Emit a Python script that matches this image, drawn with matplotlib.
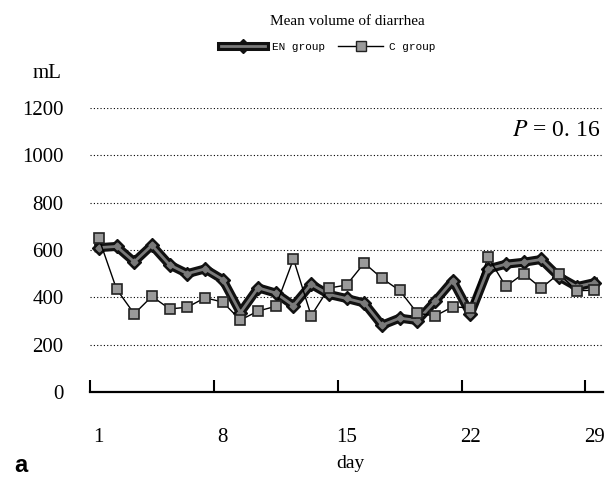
import matplotlib
matplotlib.use("Agg")
import matplotlib.pyplot as plt
from matplotlib.lines import Line2D
from matplotlib.legend_handler import HandlerTuple

# Mean volume of diarrhea (mL) per day
days = list(range(1, 30))
en_group = [610, 615, 550, 620, 537, 500, 520, 475, 335, 440, 418, 365, 455, 412, 395,
            376, 282, 312, 302, 383, 470, 330, 520, 540, 548, 560, 487, 445, 462]
c_group = [650, 435, 330, 404, 351, 358, 398, 380, 304, 342, 362, 562, 322, 439, 452,
           545, 480, 429, 333, 321, 360, 355, 570, 446, 500, 439, 500, 428, 430]

y_ticks = [0, 200, 400, 600, 800, 1000, 1200]
x_ticks = [1, 8, 15, 22, 29]

serif = ['Liberation Serif', 'DejaVu Serif']
plt.rcParams['mathtext.fontset'] = 'stix'

fig = plt.figure(figsize=(6.08, 4.78), dpi=100)
ax = fig.add_axes([0.148, 0.180, 0.844, 0.594])

# EN group: thick dark band with grey core
ax.plot(days, en_group, color='#111111', lw=6.5, marker='D', ms=7,
        mfc='#111111', mec='#111111', solid_joinstyle='round', zorder=3)
ax.plot(days, en_group, color='#7a7a7a', lw=2, marker='D', ms=3.5,
        mfc='#7a7a7a', mec='#7a7a7a', zorder=4)
# C group: thin line with grey squares
ax.plot(days, c_group, color='black', lw=1, marker='s', ms=7.5,
        mfc='#9a9a9a', mec='#222222', mew=1.2, zorder=5)

ax.set_xlim(0.5, 29.5)
ax.set_ylim(0, 1200)
ax.set_yticks(y_ticks)
ax.set_yticklabels([str(v) for v in y_ticks], family=serif, fontsize=15)
ax.set_xticks(x_ticks)
ax.set_xticklabels([str(v) for v in x_ticks], family=serif, fontsize=15)
ax.set_xticks([0.5, 7.5, 14.5, 21.5, 28.5], minor=True)
ax.tick_params(axis='x', which='major', length=0, pad=26)
ax.tick_params(axis='x', which='minor', direction='in', length=9, width=1.5)
ax.tick_params(axis='y', length=0, pad=19)

for s in ['left', 'top', 'right']:
    ax.spines[s].set_visible(False)
ax.spines['bottom'].set_linewidth(1.6)

for v in y_ticks[1:]:
    ax.axhline(v, color='black', lw=0.8, ls=(0, (1, 2)), zorder=1)

fig.text(0.571, 0.954, 'Mean volume of diarrhea', ha='center', va='center',
         family=serif, fontsize=11)
fig.text(0.077, 0.847, 'mL', ha='center', va='center', family=serif, fontsize=15)
fig.text(0.576, 0.031, 'day', ha='center', va='center', family=serif, fontsize=14)
fig.text(0.035, 0.027, 'a', ha='center', va='center', family='Liberation Sans',
         fontweight='bold', fontsize=17)
fig.text(0.987, 0.728, r'$P$ = 0. 16', ha='right', va='center', family=serif, fontsize=17)

en_h = (Line2D([], [], color='#111111', lw=6.5, marker='D', ms=7, mfc='#111111',
               markevery=[1]),
        Line2D([], [], color='#7a7a7a', lw=2))
c_h = Line2D([], [], color='black', lw=1, marker='s', ms=7, mfc='#9a9a9a', mec='#222222')
fig.legend([en_h, c_h], ['EN group', 'C group'], loc='center',
           bbox_to_anchor=(0.54, 0.902), ncol=2, frameon=False,
           prop={'family': 'Liberation Mono', 'size': 8},
           handler_map={tuple: HandlerTuple(ndivide=1)},
           handlelength=4, columnspacing=1.2, handletextpad=0.6)

fig.savefig('out.png', dpi=100)
